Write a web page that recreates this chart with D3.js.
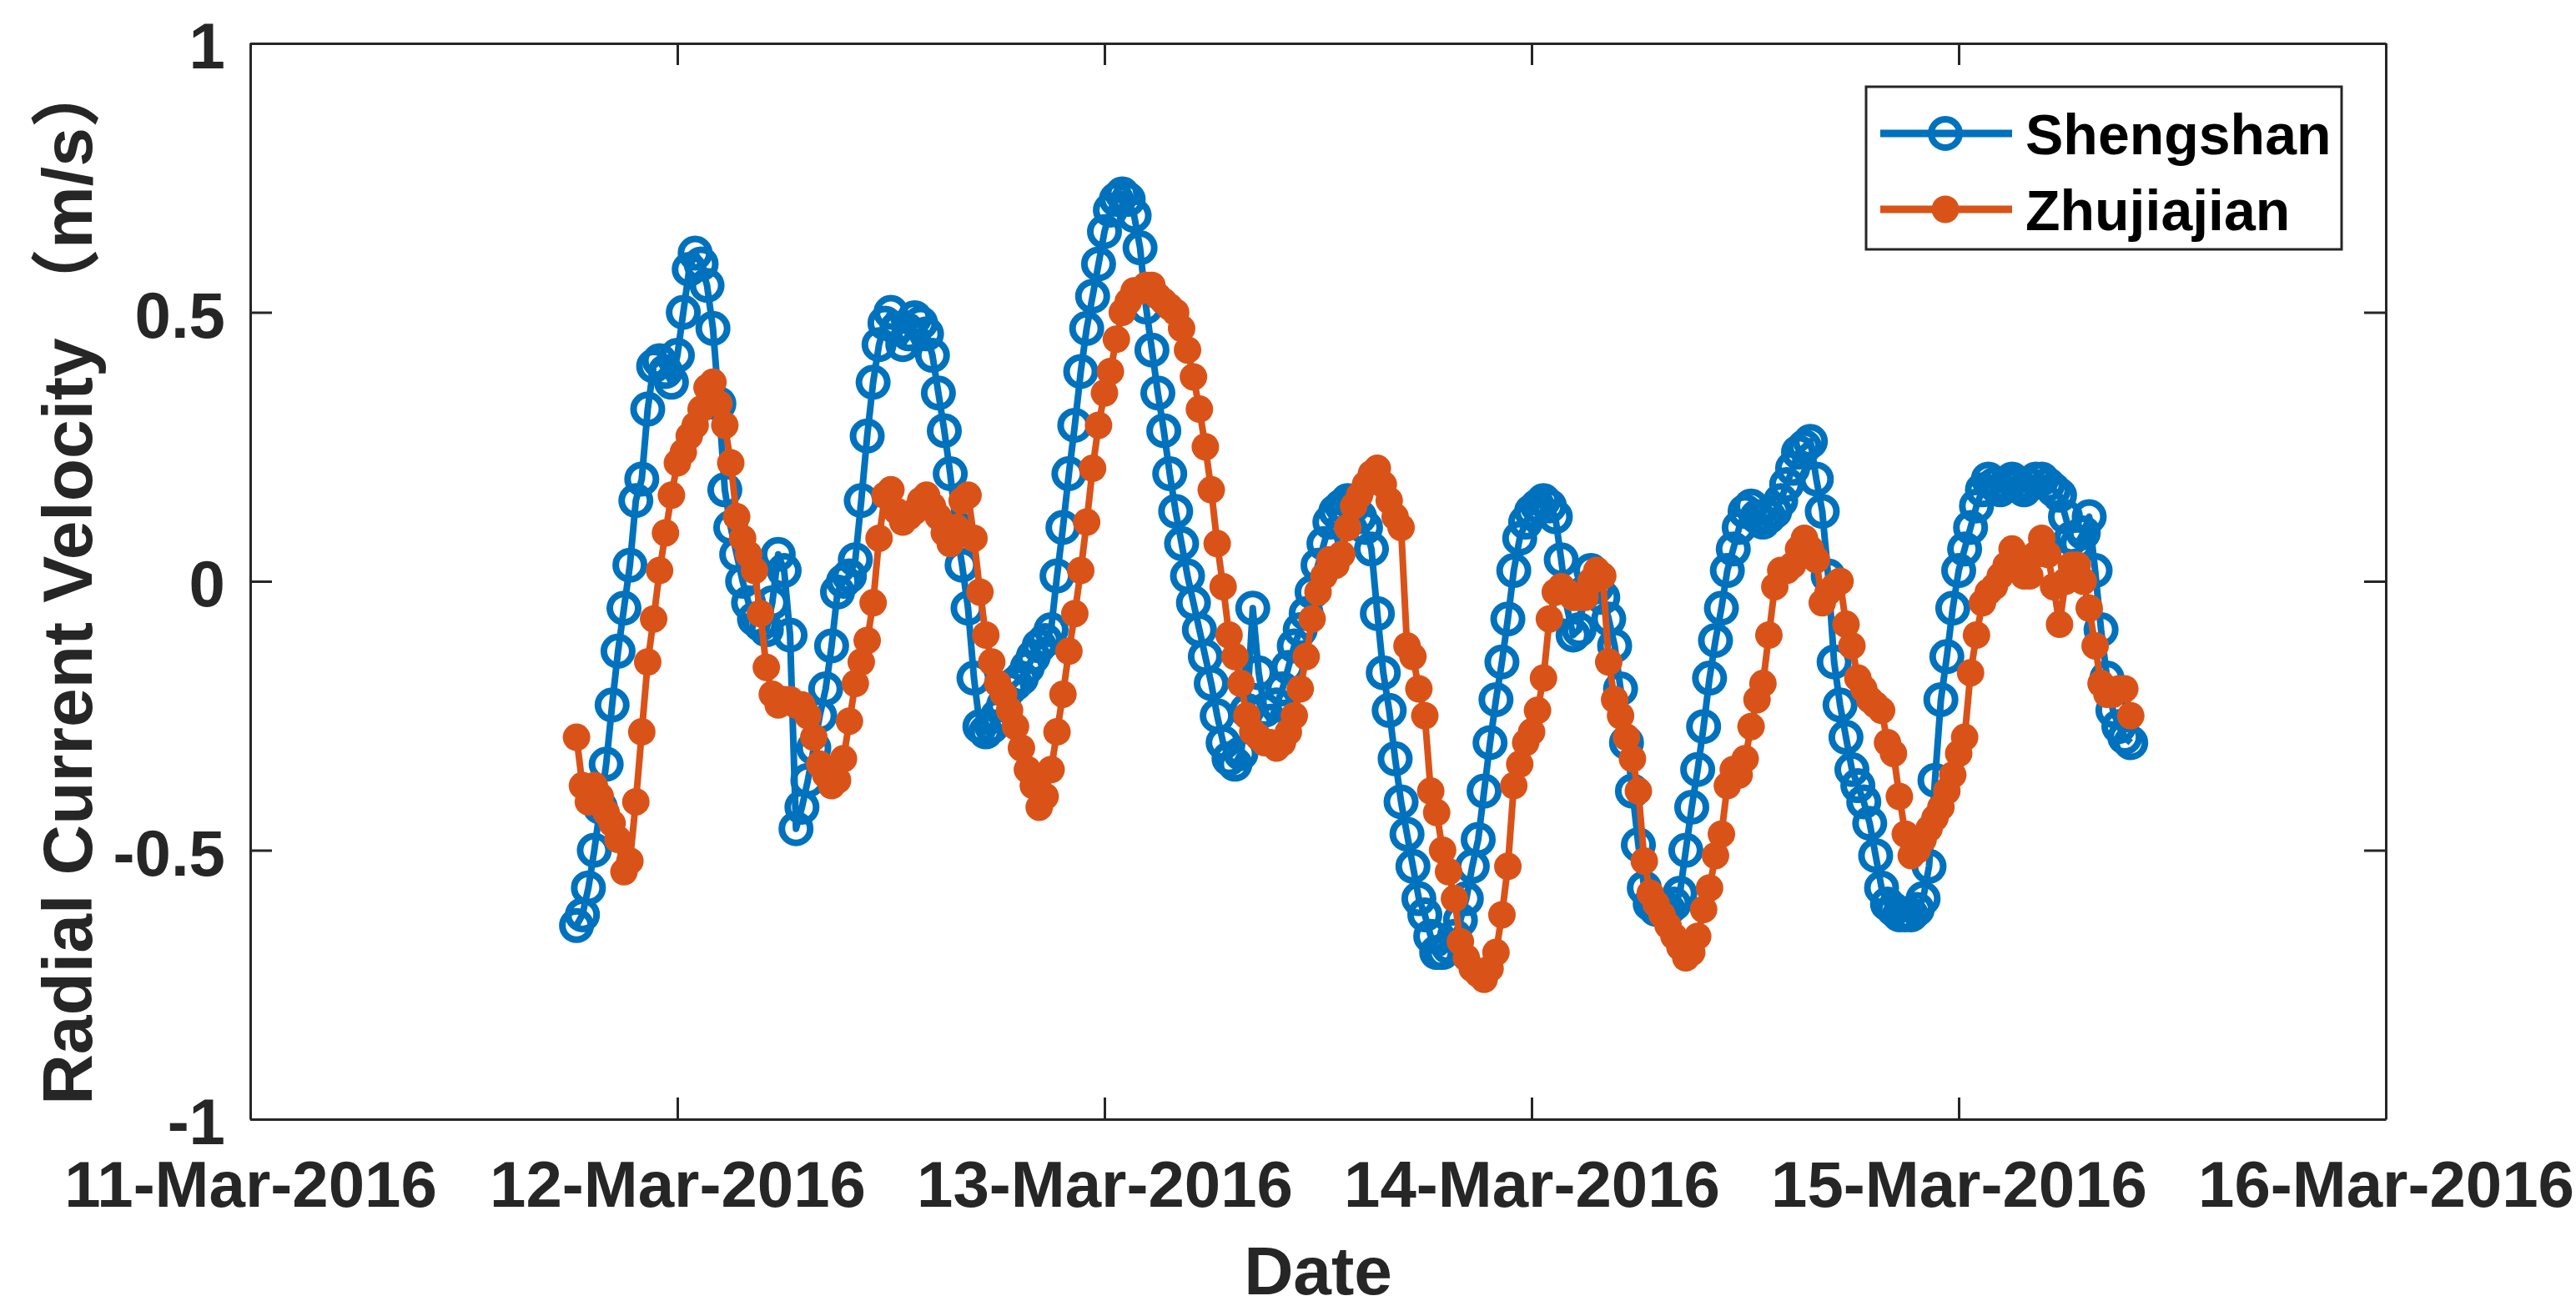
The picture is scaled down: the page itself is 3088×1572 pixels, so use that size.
<!DOCTYPE html>
<html>
<head>
<meta charset="utf-8">
<script src="https://cdn.jsdelivr.net/npm/d3@7"></script>
<style>
  body { margin: 0; background: #fff; }
  svg { display: block; }
  text { font-family: "Liberation Sans", Arial, Helvetica, "Noto Sans CJK SC", sans-serif; font-weight: bold; }
</style>
</head>
<body>
<svg id="chart" width="3088" height="1572"></svg>
<script>
// radial current velocity, one sample every 20 minutes from 11-Mar-2016 18:20
let startTime = Date.UTC(2016, 2, 11, 18, 20)
let stepMinutes = 20

let shengshan = [
  -0.64, -0.62, -0.57, -0.50, -0.42, -0.34, -0.23, -0.13, -0.05, 0.03,
  0.15, 0.19, 0.32, 0.40, 0.41, 0.39, 0.37, 0.42, 0.50, 0.58,
  0.61, 0.59, 0.55, 0.47, 0.33, 0.17, 0.10, 0.05, 0.00, -0.04,
  -0.07, -0.08, -0.09, -0.04, 0.05, 0.02, -0.10, -0.46, -0.42, -0.37,
  -0.31, -0.25, -0.20, -0.12, -0.02, 0.00, 0.01, 0.04, 0.15, 0.27,
  0.37, 0.44, 0.48, 0.50, 0.47, 0.44, 0.46, 0.49, 0.48, 0.46,
  0.42, 0.35, 0.28, 0.20, 0.10, 0.03, -0.05, -0.18, -0.27, -0.28,
  -0.27, -0.25, -0.23, -0.20, -0.19, -0.18, -0.16, -0.14, -0.12, -0.11,
  -0.09, 0.01, 0.10, 0.20, 0.29, 0.39, 0.47, 0.53, 0.59, 0.65,
  0.69, 0.71, 0.72, 0.71, 0.68, 0.62, 0.51, 0.43, 0.35, 0.28,
  0.20, 0.13, 0.07, 0.01, -0.04, -0.09, -0.14, -0.19, -0.25, -0.30,
  -0.33, -0.34, -0.32, -0.24, -0.05, -0.17, -0.24, -0.26, -0.23, -0.20,
  -0.16, -0.12, -0.09, -0.06, -0.02, 0.03, 0.07, 0.11, 0.13, 0.14,
  0.15, 0.14, 0.12, 0.10, 0.06, -0.06, -0.17, -0.24, -0.33, -0.41,
  -0.47, -0.53, -0.59, -0.62, -0.66, -0.69, -0.69, -0.68, -0.66, -0.63,
  -0.59, -0.53, -0.48, -0.39, -0.30, -0.22, -0.15, -0.07, 0.02, 0.08,
  0.11, 0.13, 0.14, 0.15, 0.14, 0.12, 0.04, -0.05, -0.10, -0.09,
  -0.02, 0.02, -0.01, -0.03, -0.07, -0.12, -0.20, -0.30, -0.39, -0.49,
  -0.57, -0.60, -0.61, -0.61, -0.61, -0.60, -0.58, -0.50, -0.42, -0.35,
  -0.27, -0.18, -0.11, -0.05, 0.02, 0.06, 0.10, 0.13, 0.14, 0.12,
  0.11, 0.12, 0.13, 0.15, 0.18, 0.21, 0.24, 0.25, 0.26, 0.19,
  0.13, 0.01, -0.15, -0.23, -0.29, -0.35, -0.38, -0.41, -0.45, -0.51,
  -0.57, -0.60, -0.61, -0.62, -0.62, -0.62, -0.61, -0.59, -0.53, -0.37,
  -0.22, -0.14, -0.05, 0.02, 0.06, 0.10, 0.14, 0.17, 0.19, 0.18,
  0.17, 0.18, 0.19, 0.18, 0.17, 0.18, 0.19, 0.19, 0.18, 0.17,
  0.16, 0.12, 0.08, 0.07, 0.09, 0.12, 0.02, -0.09, -0.18, -0.24,
  -0.27, -0.29, -0.30
]

let zhujiajian = [
  -0.29, -0.38, -0.41, -0.38, -0.40, -0.43, -0.45, -0.48, -0.54, -0.52,
  -0.41, -0.28, -0.15, -0.07, 0.02, 0.09, 0.16, 0.22, 0.24, 0.27,
  0.29, 0.32, 0.36, 0.37, 0.33, 0.29, 0.22, 0.12, 0.08, 0.05,
  0.02, -0.06, -0.16, -0.21, -0.23, -0.22, -0.22, -0.23, -0.23, -0.25,
  -0.29, -0.34, -0.36, -0.38, -0.37, -0.33, -0.26, -0.19, -0.15, -0.11,
  -0.04, 0.08, 0.16, 0.17, 0.13, 0.11, 0.12, 0.13, 0.15, 0.16,
  0.14, 0.12, 0.09, 0.07, 0.10, 0.15, 0.16, 0.08, -0.02, -0.10,
  -0.15, -0.19, -0.21, -0.24, -0.27, -0.31, -0.35, -0.38, -0.42, -0.40,
  -0.35, -0.28, -0.21, -0.13, -0.06, 0.02, 0.11, 0.21, 0.29, 0.35,
  0.39, 0.45, 0.50, 0.52, 0.54, 0.54, 0.55, 0.55, 0.53, 0.52,
  0.51, 0.50, 0.47, 0.43, 0.38, 0.32, 0.25, 0.17, 0.07, -0.01,
  -0.10, -0.14, -0.19, -0.25, -0.28, -0.29, -0.30, -0.30, -0.31, -0.30,
  -0.28, -0.25, -0.20, -0.14, -0.07, -0.02, 0.01, 0.04, 0.03, 0.05,
  0.10, 0.14, 0.16, 0.18, 0.20, 0.21, 0.18, 0.15, 0.12, 0.10,
  -0.12, -0.14, -0.20, -0.25, -0.39, -0.43, -0.50, -0.54, -0.59, -0.67,
  -0.70, -0.72, -0.73, -0.74, -0.72, -0.69, -0.62, -0.53, -0.38, -0.34,
  -0.30, -0.28, -0.24, -0.18, -0.07, -0.02, -0.01, -0.02, -0.03, -0.03,
  -0.03, 0.00, 0.02, 0.01, -0.15, -0.22, -0.25, -0.29, -0.33, -0.39,
  -0.52, -0.58, -0.60, -0.62, -0.64, -0.66, -0.68, -0.70, -0.69, -0.66,
  -0.61, -0.57, -0.51, -0.47, -0.38, -0.35, -0.36, -0.33, -0.27, -0.22,
  -0.19, -0.10, -0.01, 0.02, 0.02, 0.03, 0.06, 0.08, 0.06, 0.04,
  -0.04, -0.02, -0.01, 0.00, -0.08, -0.12, -0.18, -0.20, -0.22, -0.23,
  -0.24, -0.30, -0.32, -0.40, -0.47, -0.51, -0.50, -0.48, -0.46, -0.44,
  -0.42, -0.39, -0.36, -0.32, -0.29, -0.17, -0.10, -0.04, -0.02, -0.01,
  0.01, 0.03, 0.06, 0.03, 0.01, 0.01, 0.05, 0.08, 0.05, -0.01,
  -0.08, 0.00, 0.03, 0.03, 0.00, -0.05, -0.12, -0.19, -0.21, -0.21,
  -0.20, -0.20, -0.25
]

let tickDays = [11, 12, 13, 14, 15, 16]
let yTicks = [-1, -0.5, 0, 0.5, 1]
let seriesNames = ['Shengshan', 'Zhujiajian']

let blue = '#0072BD'
let orange = '#D95319'
let ink = '#262626'

let margin = {left: 300, right: 228, top: 52, bottom: 230}
let width = 3088
let height = 1572
let plotW = width - margin.left - margin.right
let plotH = height - margin.top - margin.bottom

let svg = d3.select('#chart')
svg.append('rect').attr('width', width).attr('height', height).attr('fill', '#fff')

let xScale = d3.scaleUtc()
    .domain([new Date(Date.UTC(2016, 2, 11)), new Date(Date.UTC(2016, 2, 16))])
    .range([0, plotW])
let yScale = d3.scaleLinear().domain([-1, 1]).range([plotH, 0])

let timeOf = (i) => new Date(startTime + i * stepMinutes * 60000)
let tickDates = tickDays.map((d) => new Date(Date.UTC(2016, 2, d)))
let dateFormat = d3.utcFormat('%d-%b-%Y')
// plain hyphen for negatives, like the original
let valueFormat = (v) => String(v)

let plot = svg.append('g').attr('transform', `translate(${margin.left},${margin.top})`)

let styleAxis = (g) => {
    g.select('.domain').attr('stroke', ink).attr('stroke-width', 3)
    g.selectAll('.tick line').attr('stroke', ink).attr('stroke-width', 3)
    g.selectAll('.tick text')
        .attr('fill', ink)
        .style('font-size', '78px')
}

plot.append('g')
    .attr('transform', `translate(0,${plotH})`)
    .call(d3.axisBottom(xScale).tickValues(tickDates).tickFormat(dateFormat)
        .tickSizeInner(-26).tickSizeOuter(0).tickPadding(50))
    .call(styleAxis)

plot.append('g')
    .call(d3.axisTop(xScale).tickValues(tickDates).tickFormat('')
        .tickSizeInner(-26).tickSizeOuter(0))
    .call(styleAxis)

plot.append('g')
    .call(d3.axisLeft(yScale).tickValues(yTicks).tickFormat(valueFormat)
        .tickSizeInner(-26).tickSizeOuter(0).tickPadding(30))
    .call(styleAxis)
    .call((g) => g.selectAll('.tick text').attr('dy', '0.38em'))

plot.append('g')
    .attr('transform', `translate(${plotW},0)`)
    .call(d3.axisRight(yScale).tickValues(yTicks).tickFormat('')
        .tickSizeInner(-26).tickSizeOuter(0))
    .call(styleAxis)

let line = d3.line()
    .x((d, i) => xScale(timeOf(i)))
    .y((d) => yScale(d))

// Shengshan: open circles
plot.append('path')
    .datum(shengshan)
    .attr('d', line)
    .attr('fill', 'none')
    .attr('stroke', blue)
    .attr('stroke-width', 8)
    .attr('stroke-linejoin', 'round')

plot.append('g').selectAll('circle')
    .data(shengshan)
    .enter()
    .append('circle')
    .attr('cx', (d, i) => xScale(timeOf(i)))
    .attr('cy', (d) => yScale(d))
    .attr('r', 17)
    .attr('fill', 'none')
    .attr('stroke', blue)
    .attr('stroke-width', 8)

// Zhujiajian: filled dots
plot.append('path')
    .datum(zhujiajian)
    .attr('d', line)
    .attr('fill', 'none')
    .attr('stroke', orange)
    .attr('stroke-width', 8)
    .attr('stroke-linejoin', 'round')

plot.append('g').selectAll('circle')
    .data(zhujiajian)
    .enter()
    .append('circle')
    .attr('cx', (d, i) => xScale(timeOf(i)))
    .attr('cy', (d) => yScale(d))
    .attr('r', 16.5)
    .attr('fill', orange)

// axis titles
svg.append('text')
    .attr('x', margin.left + plotW / 2)
    .attr('y', 1552)
    .attr('text-anchor', 'middle')
    .attr('fill', ink)
    .style('font-size', '82px')
    .text('Date')

svg.append('text')
    .attr('transform', `translate(110,${margin.top + plotH / 2}) rotate(-90)`)
    .attr('text-anchor', 'middle')
    .attr('fill', ink)
    .style('font-size', '84px')
    .text('Radial Current Velocity （m/s）')

// legend
let legend = svg.append('g')
legend.append('rect')
    .attr('x', 2237).attr('y', 104)
    .attr('width', 570).attr('height', 195)
    .attr('fill', '#fff')
    .attr('stroke', ink)
    .attr('stroke-width', 3)

let legendRows = legend.selectAll('.row')
    .data(seriesNames)
    .enter()
    .append('g')
    .attr('class', 'row')
    .attr('transform', (d, i) => `translate(0,${160 + i * 91})`)

legendRows.append('line')
    .attr('x1', 2254).attr('x2', 2412)
    .attr('stroke', (d, i) => i === 0 ? blue : orange)
    .attr('stroke-width', 9)

legendRows.append('circle')
    .attr('cx', 2332)
    .attr('r', (d, i) => i === 0 ? 17 : 16.5)
    .attr('fill', (d, i) => i === 0 ? 'none' : orange)
    .attr('stroke', (d, i) => i === 0 ? blue : 'none')
    .attr('stroke-width', 8)

legendRows.append('text')
    .attr('x', 2428)
    .attr('y', 25)
    .attr('fill', '#000')
    .style('font-size', '68px')
    .text((d) => d)
</script>
</body>
</html>
